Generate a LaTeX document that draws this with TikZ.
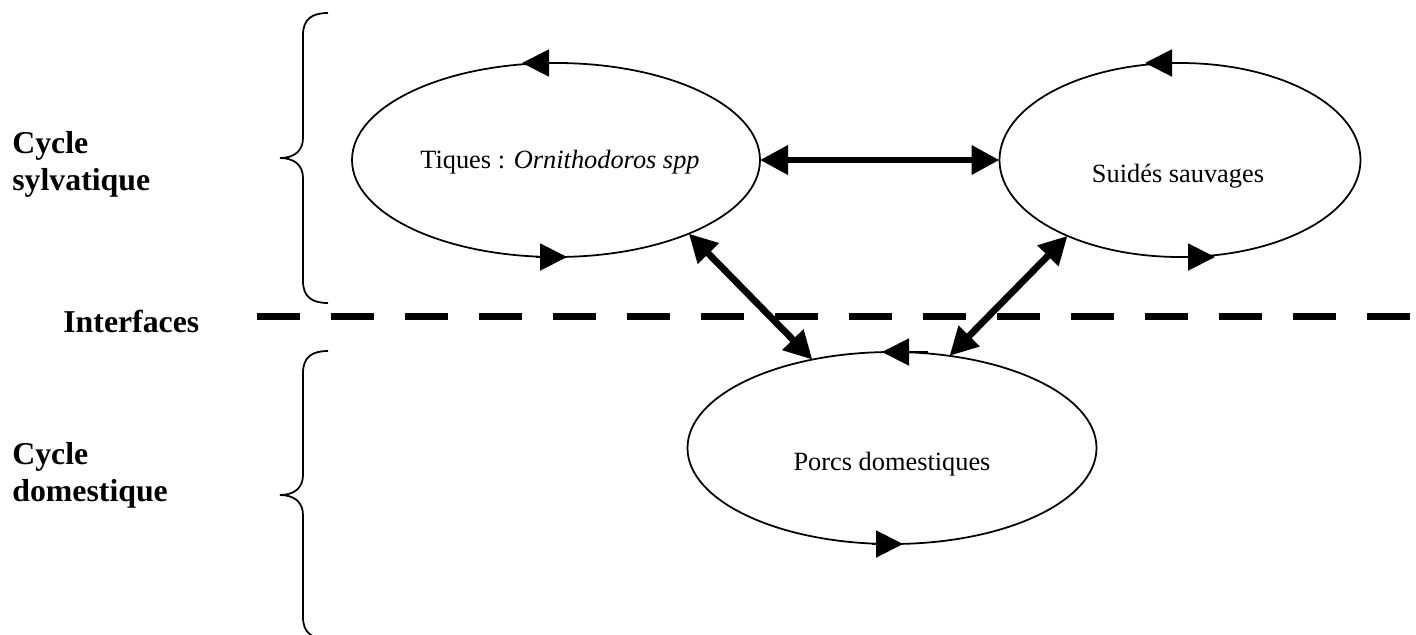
\documentclass[tikz,border=0pt]{standalone}
\usepackage{fontspec}
\setmainfont{Liberation Serif}
\usetikzlibrary{arrows.meta, calc, shapes.geometric}

\begin{document}
\begin{tikzpicture}[x=0.2mm, y=-0.2mm,
    cyclenode/.style={draw, ellipse, line width=1pt, inner sep=0pt, outer sep=0pt},
    txt/.style={font=\fontsize{15}{18}\selectfont, anchor=base, inner sep=0pt},
    titre/.style={font=\bfseries\fontsize{18.1}{21}\selectfont, align=left, anchor=base west, inner sep=0pt},
    boucle/.style={line width=1.1pt, -{Triangle[length=5.4mm, width=5.4mm]}},
    lien/.style={line width=1.35mm, {Triangle[length=5.6mm, width=5.6mm]}-{Triangle[length=5.6mm, width=5.6mm]}},
    accolade/.style={line width=1pt}]

    \useasboundingbox (0,0) rectangle (1416,634);

    % Les trois cycles
    \node[cyclenode, minimum width=81.6mm, minimum height=38.8mm] (tiques) at (556,160) {};
    \node[cyclenode, minimum width=72.2mm, minimum height=38.8mm] (suides) at (1180,160) {};
    \node[cyclenode, minimum width=81.8mm, minimum height=38.4mm] (porcs) at (892,448) {};

    \node[txt] (tiquestxt) at ($(tiques)+(4,8)$) {Tiques : \textit{Ornithodoros spp}};
    \node[txt] (suidestxt) at ($(suides)+(-2,22)$) {Suidés sauvages};
    \node[txt] (porcstxt)  at ($(porcs)+(0,22)$) {Porcs domestiques};

    % Fleches de circulation sur chaque ellipse
    \foreach \n/\a/\b/\c/\d in {tiques/12/-34/-20/11, suides/5/-35/0/35, porcs/36/-10/-20/11}{
        \draw[boucle] ($(\n.north)+(\a,0)$) -- ($(\n.north)+(\b,0)$);
        \draw[boucle] ($(\n.south)+(\c,0)$) -- ($(\n.south)+(\d,0)$);
    }

    % Echanges entre cycles
    \draw[lien] (tiques.east) -- (suides.west);
    \draw[lien] (tiques.-29) -- (porcs.132);
    \draw[lien] (suides.-146) -- (porcs.58);

    % Interface
    \coordinate (gauche) at (257,316);
    \coordinate (droite) at (1410,316);
    \draw[line width=1.4mm, dash pattern=on 8.6mm off 6.2mm] (gauche) -- (droite);

    % Accolades
    \foreach \h/\m/\b in {13/158/303, 351/495/639}{
        \draw[accolade] (328,\h) .. controls (312,\h) and (303,\h+6) .. (303,\h+22)
            -- (303,\m-20) .. controls (303,\m-7) and (294,\m) .. (280,\m)
            .. controls (294,\m) and (303,\m+7) .. (303,\m+20)
            -- (303,\b-22) .. controls (303,\b-6) and (312,\b) .. (328,\b);
    }

    % Etiquettes
    \node[titre] (sylv)   at (12,190) {Cycle\\sylvatique};
    \node[titre] (interf) at (63,332) {Interfaces};
    \node[titre] (dom)    at (12,501) {Cycle\\domestique};
\end{tikzpicture}
\end{document}
